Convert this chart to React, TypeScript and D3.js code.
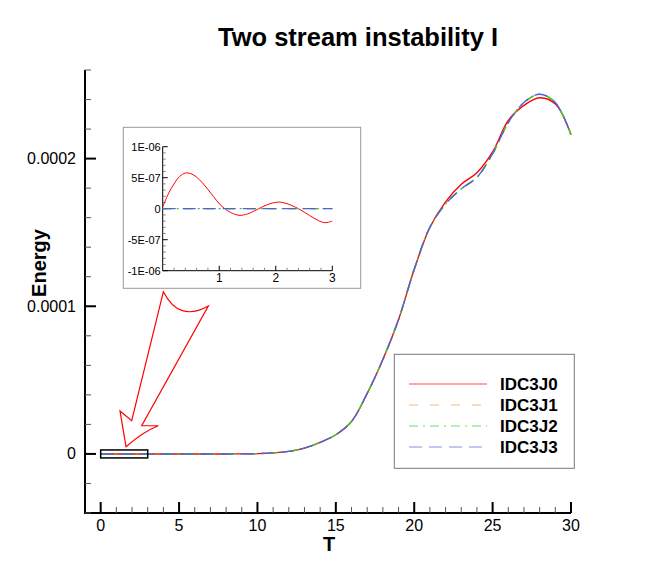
import React from 'react';
import * as d3 from 'd3';

// Main plot data (T vs Energy)
const timeT = [0, 2, 4, 6, 8, 10, 11, 12, 13, 14, 15, 16, 17, 18, 19, 20, 21, 22, 23, 24, 25, 26, 27, 28, 29, 30];
const energyJ0 = [0, 0, 0, 0, 0, 2e-7, 7e-7, 1.7e-6, 3.9e-6, 7.8e-6, 1.3e-5, 2.2e-5, 4.1e-5, 6.4e-5, 9.1e-5, 1.25e-4, 1.535e-4, 1.707e-4, 1.826e-4, 1.904e-4, 2.045e-4, 2.258e-4, 2.36e-4, 2.412e-4, 2.37e-4, 2.162e-4];
const energyJ1 = [0, 0, 0, 0, 0, 2e-7, 7e-7, 1.7e-6, 3.9e-6, 7.8e-6, 1.3e-5, 2.2e-5, 4.1e-5, 6.4e-5, 9.1e-5, 1.25e-4, 1.535e-4, 1.693e-4, 1.795e-4, 1.873e-4, 2.033e-4, 2.244e-4, 2.38e-4, 2.436e-4, 2.38e-4, 2.162e-4];
const energyJ2 = [0, 0, 0, 0, 0, 2e-7, 7e-7, 1.7e-6, 3.9e-6, 7.8e-6, 1.3e-5, 2.2e-5, 4.1e-5, 6.4e-5, 9.1e-5, 1.25e-4, 1.535e-4, 1.693e-4, 1.795e-4, 1.873e-4, 2.033e-4, 2.244e-4, 2.38e-4, 2.436e-4, 2.38e-4, 2.162e-4];
const energyJ3 = [0, 0, 0, 0, 0, 2e-7, 7e-7, 1.7e-6, 3.9e-6, 7.8e-6, 1.3e-5, 2.2e-5, 4.1e-5, 6.4e-5, 9.1e-5, 1.25e-4, 1.535e-4, 1.693e-4, 1.795e-4, 1.873e-4, 2.033e-4, 2.244e-4, 2.38e-4, 2.436e-4, 2.38e-4, 2.162e-4];

// Inset (zoom on T in [0,3])
const insetT = [0, 0.1, 0.2, 0.3, 0.4, 0.5, 0.6, 0.7, 0.8, 0.9, 1.0, 1.1, 1.2, 1.35, 1.5, 1.6, 1.7, 1.85, 2.05, 2.2, 2.4, 2.6, 2.75, 2.87, 3.0];
const insetJ0 = [3e-8, 2.4e-7, 4.0e-7, 5.2e-7, 5.75e-7, 5.65e-7, 5.1e-7, 4.2e-7, 3.1e-7, 1.95e-7, 8e-8, 0, -6e-8, -1.07e-7, -8.5e-8, -4.5e-8, 0, 6.5e-8, 1.07e-7, 8e-8, 0, -1.1e-7, -1.9e-7, -2.25e-7, -2.0e-7];
const insetFlatT = [0, 1, 2, 3];
const insetJ1 = [0, 0, 0, 0];
const insetJ2 = [0, 0, 0, 0];
const insetJ3 = [0, 0, 0, 0];

const seriesNames = ['IDC3J0', 'IDC3J1', 'IDC3J2', 'IDC3J3'];
const seriesColors = ['#ff0000', '#f29a4a', '#33cc33', '#4f63d8'];
const seriesDash = ['', '9,12', '9,5,2,5', '13,7'];

const xMajor = [0, 5, 10, 15, 20, 25, 30];
const yMajor = [0, 0.0001, 0.0002];
const yMajorLabels = ['0', '0.0001', '0.0002'];
const insetXMajor = [1, 2, 3];
const insetYMajor = [-1e-6, -5e-7, 0, 5e-7, 1e-6];
const insetYLabels = ['-1E-06', '-5E-07', '0', '5E-07', '1E-06'];

// arrow annotation, in main data coordinates
const arrowPts: [number, number][] = [
  [4.0, 1.099e-4], [5.0, 8.9e-5], [6.865, 1.002e-4], [2.617, 1.91e-5], [3.676, 1.91e-5],
  [2.7, 1.5e-5], [1.615, 4.9e-6], [1.233, 2.91e-5], [1.979, 2.25e-5],
];

const FONT = 'Liberation Sans, Arial, Helvetica, sans-serif';

const App: React.FC = () => {
  const x = d3.scaleLinear().domain([-1, 30]).range([85, 571]);
  const y = d3.scaleLinear().domain([-0.00004, 0.00026]).range([513, 70]);
  const xi = d3.scaleLinear().domain([0, 3]).range([162.7, 332.3]);
  const yi = d3.scaleLinear().domain([-1e-6, 1e-6]).range([270.7, 146.7]);

  const mainLine = d3.line<number>().x((_, i) => x(timeT[i])).y(d => y(d)).curve(d3.curveCatmullRom);
  const insetLine = d3.line<number>().x((_, i) => xi(insetT[i])).y(d => yi(d)).curve(d3.curveCatmullRom);
  const flatLine = d3.line<number>().x((_, i) => xi(insetFlatT[i])).y(d => yi(d));

  const mainSeries = [energyJ0, energyJ1, energyJ2, energyJ3];
  const insetFlat = [insetJ1, insetJ2, insetJ3];

  const xMinor = d3.range(-1, 30.01, 1).filter(v => !xMajor.includes(v) && v > -1);
  const yMinor = d3.range(-0.00004, 0.000261, 0.00002).filter(v => !yMajor.some(m => Math.abs(m - v) < 1e-9));
  const ixMinor = d3.range(0, 3.01, 0.2).filter(v => Math.abs(v - Math.round(v)) > 1e-6);
  const iyMinor = d3.range(-1e-6, 1.01e-6, 1e-7).filter(v => !insetYMajor.some(m => Math.abs(m - v) < 1e-12));

  const p = arrowPts.map(([t, v]) => [x(t), y(v)]);
  const arrowD = `M${p[0]} Q${p[1]} ${p[2]} L${p[3]} L${p[4]} Q${p[5]} ${p[6]} L${p[7]} L${p[8]} Z`;

  const legendRows = [384, 405, 426, 447];

  return (
    <svg width={650} height={578} style={{ position: 'absolute', left: 0, top: 0, background: '#fff' }} fontFamily={FONT}>
      <text x={358} y={46} textAnchor="middle" fontSize={25.5} fontWeight="bold">Two stream instability I</text>

      {/* main axes */}
      <line x1={85} x2={85} y1={70} y2={514} stroke="#000" strokeWidth={2} />
      <line x1={84} x2={571} y1={513} y2={513} stroke="#000" strokeWidth={2} />
      {yMajor.map((v, i) => (
        <g key={v}>
          <line x1={85} x2={96} y1={y(v)} y2={y(v)} stroke="#000" strokeWidth={2} />
          <text x={76} y={y(v) + 5.5} textAnchor="end" fontSize={16}>{yMajorLabels[i]}</text>
        </g>
      ))}
      {yMinor.map(v => (
        <line key={v} x1={85} x2={91} y1={y(v)} y2={y(v)} stroke="#555" strokeWidth={1} />
      ))}
      {xMajor.map(v => (
        <g key={v}>
          <line x1={x(v)} x2={x(v)} y1={513} y2={502} stroke="#000" strokeWidth={2} />
          <text x={x(v)} y={531} textAnchor="middle" fontSize={16}>{v}</text>
        </g>
      ))}
      {xMinor.map(v => (
        <line key={v} x1={x(v)} x2={x(v)} y1={513} y2={507} stroke="#555" strokeWidth={1} />
      ))}
      <text x={329} y={551} textAnchor="middle" fontSize={20} fontWeight="bold">T</text>
      <text transform="translate(46,263) rotate(-90)" textAnchor="middle" fontSize={20} fontWeight="bold">Energy</text>

      {/* main curves */}
      {mainSeries.map((s, i) => (
        <path key={i} d={mainLine(s) || ''} fill="none" stroke={seriesColors[i]} strokeWidth={1.4}
          strokeDasharray={seriesDash[i] || undefined} />
      ))}

      {/* zoom box and arrow */}
      <rect x={x(0)} y={y(2.7e-6)} width={x(3) - x(0)} height={y(-2.7e-6) - y(2.7e-6)} fill="none" stroke="#000" strokeWidth={1.5} />
      <path d={arrowD} fill="none" stroke="#ff0000" strokeWidth={1.2} strokeLinejoin="miter" />

      {/* inset */}
      <rect x={123.3} y={127.3} width={237.4} height={161} fill="#fff" stroke="#999" strokeWidth={1} />
      <line x1={xi(0)} x2={xi(0)} y1={yi(1e-6)} y2={yi(-1e-6)} stroke="#000" strokeWidth={1} />
      <line x1={xi(0)} x2={xi(3)} y1={yi(-1e-6)} y2={yi(-1e-6)} stroke="#000" strokeWidth={1} />
      {insetYMajor.map((v, i) => (
        <g key={v}>
          <line x1={xi(0)} x2={xi(0) + 5} y1={yi(v)} y2={yi(v)} stroke="#000" strokeWidth={1} />
          <text x={xi(0) - 2} y={yi(v) + 4} textAnchor="end" fontSize={11}>{insetYLabels[i]}</text>
        </g>
      ))}
      {iyMinor.map(v => (
        <line key={v} x1={xi(0)} x2={xi(0) + 3} y1={yi(v)} y2={yi(v)} stroke="#666" strokeWidth={0.8} />
      ))}
      {insetXMajor.map(v => (
        <g key={v}>
          <line x1={xi(v)} x2={xi(v)} y1={yi(-1e-6)} y2={yi(-1e-6) - 5} stroke="#000" strokeWidth={1} />
          <text x={xi(v)} y={282} textAnchor="middle" fontSize={12}>{v}</text>
        </g>
      ))}
      {ixMinor.map(v => (
        <line key={v} x1={xi(v)} x2={xi(v)} y1={yi(-1e-6)} y2={yi(-1e-6) - 3} stroke="#666" strokeWidth={0.8} />
      ))}
      <path d={insetLine(insetJ0) || ''} fill="none" stroke={seriesColors[0]} strokeWidth={1} />
      {insetFlat.map((s, i) => (
        <path key={i} d={flatLine(s) || ''} fill="none" stroke={seriesColors[i + 1]} strokeWidth={1.3}
          strokeDasharray={seriesDash[i + 1]} />
      ))}

      {/* legend */}
      <rect x={394.3} y={354.3} width={180} height={114} fill="#fff" stroke="#777" strokeWidth={1} />
      {seriesNames.map((n, i) => (
        <g key={n}>
          <line x1={409} x2={487} y1={legendRows[i]} y2={legendRows[i]} stroke={seriesColors[i]} strokeWidth={1}
            strokeDasharray={seriesDash[i] || undefined} opacity={0.7} />
          <text x={500} y={legendRows[i] + 6} fontSize={17} fontWeight="bold">{n}</text>
        </g>
      ))}
    </svg>
  );
};

export default App;
